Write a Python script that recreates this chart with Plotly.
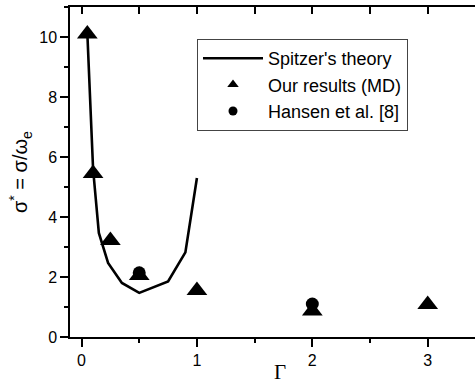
import plotly.graph_objects as go

# Spitzer's theory curve
spitzer_gamma = [0.05, 0.1, 0.15, 0.23, 0.35, 0.5, 0.75, 0.9, 1.0]
spitzer_sigma = [10.15, 5.6, 3.47, 2.47, 1.8, 1.47, 1.85, 2.82, 5.3]

# Our results (MD)
md_gamma = [0.05, 0.1, 0.25, 0.5, 1.0, 2.0, 3.0]
md_sigma = [10.1, 5.45, 3.22, 2.05, 1.55, 0.87, 1.08]

# Hansen et al. [8]
hansen_gamma = [0.5, 2.0]
hansen_sigma = [2.14, 1.1]

x_ticks = [0, 1, 2, 3]
y_ticks = [0, 2, 4, 6, 8, 10]

FONT = "Liberation Sans, Arial, sans-serif"

fig = go.Figure()
fig.add_trace(go.Scatter(x=spitzer_gamma, y=spitzer_sigma, mode="lines",
                         line=dict(color="black", width=2.6), showlegend=False))
fig.add_trace(go.Scatter(x=hansen_gamma, y=hansen_sigma, mode="markers",
                         marker=dict(symbol="circle", size=13, color="black", line=dict(width=0)),
                         showlegend=False))
fig.add_trace(go.Scatter(x=md_gamma, y=md_sigma, mode="markers",
                         marker=dict(symbol="triangle-up", size=18, color="black", line=dict(width=0)),
                         showlegend=False))

# legend entries
fig.add_trace(go.Scatter(x=[None], y=[None], mode="lines", name="Spitzer's theory",
                         line=dict(color="black", width=2.6)))
fig.add_trace(go.Scatter(x=[None], y=[None], mode="markers", name="Our results (MD)",
                         marker=dict(symbol="triangle-up", size=10, color="black")))
fig.add_trace(go.Scatter(x=[None], y=[None], mode="markers", name="Hansen et al. [8]",
                         marker=dict(symbol="circle", size=9, color="black")))

axis_common = dict(showgrid=False, zeroline=False, showline=True, linecolor="black",
                   linewidth=1.5, tickcolor="black", tickwidth=1.5, automargin=False,
                   tickfont=dict(family=FONT, size=16, color="black"))

fig.update_layout(
    width=475, height=382,
    margin=dict(l=70, r=0, t=7, b=45, autoexpand=False),
    plot_bgcolor="white", paper_bgcolor="white",
    xaxis=dict(range=[-0.1, 3.41], tickvals=x_ticks, ticks="outside", ticklen=8,
               minor=dict(dtick=0.5, tick0=0, ticks="outside", ticklen=4, tickcolor="black", tickwidth=1.5),
               **axis_common),
    xaxis2=dict(range=[-0.1, 3.41], overlaying="x", side="top", showgrid=False, zeroline=False,
                showline=True, linecolor="black", linewidth=1.5, tickvals=[0, 0.5, 1, 1.5, 2, 2.5, 3],
                ticks="inside", ticklen=7, tickcolor="black", tickwidth=1.5, showticklabels=False,
                matches="x", automargin=False),
    yaxis=dict(range=[0, 11], tickvals=y_ticks, ticks="outside", ticklen=8,
               minor=dict(dtick=1, tick0=0, ticks="outside", ticklen=4, tickcolor="black", tickwidth=1.5),
               **axis_common),
    legend=dict(x=(197 - 70) / 405, y=1 - (39 - 7) / 330, xanchor="left", yanchor="top",
                bordercolor="#444", borderwidth=1, bgcolor="white",
                font=dict(family=FONT, size=18, color="black"),
                itemwidth=60, tracegroupgap=0),
    annotations=[
        dict(text="Γ", xref="paper", yref="paper", x=(280 - 70) / 405, y=-(372 - 337) / 330,
             xanchor="center", yanchor="middle", showarrow=False,
             font=dict(family="Liberation Serif, Times New Roman, serif", size=21, color="black")),
        dict(text="σ<sup>*</sup> = σ/ω<sub>e</sub>", xref="paper", yref="paper",
             x=-(70 - 20) / 405, y=0.5, xanchor="center", yanchor="middle", textangle=-90,
             showarrow=False, font=dict(family=FONT, size=20, color="black")),
    ],
)
# dummy trace on top axis so it renders
fig.add_trace(go.Scatter(x=[None], y=[None], xaxis="x2", showlegend=False))

fig.write_html("out.html", config={"displayModeBar": False},
               post_script="document.body.style.margin='0px';")
